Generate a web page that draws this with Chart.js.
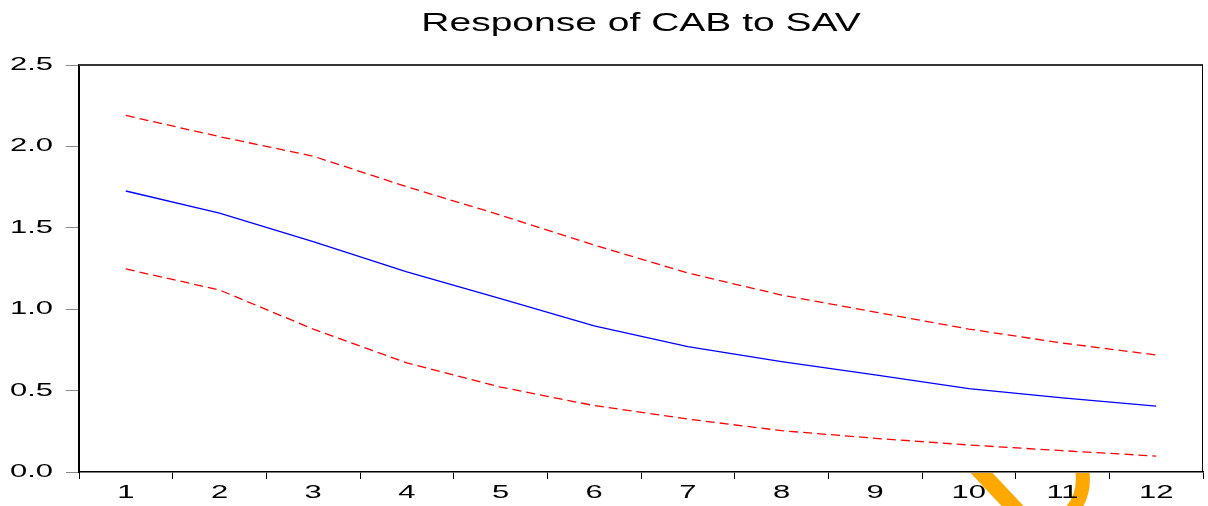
<!DOCTYPE html>
<html>
<head>
<meta charset="utf-8">
<script src="https://cdn.jsdelivr.net/npm/chart.js@4"></script>
<style>
  html, body {
    margin: 0;
    padding: 0;
    background: #fff;
  }
  #host {
    position: relative;
    width: 1208px;
    height: 506px;
  }
  #host canvas {
    position: absolute;
    left: 0;
    top: 0;
  }
  #pen {
    position: absolute;
    left: 0;
    top: 0;
  }
</style>
</head>
<body>
<div id="host">
  <svg id="pen" width="1208" height="506">
    <defs>
      <clipPath id="below-axis"><rect x="0" y="473" width="1208" height="40"/></clipPath>
    </defs>
    <g clip-path="url(#below-axis)">
      <path d="M975 466 L1022 516" stroke="#ffa800" stroke-width="16" fill="none"/>
      <path d="M1081 464 Q1088 494 1069 514" stroke="#ffa800" stroke-width="14" fill="none"/>
    </g>
  </svg>
  <canvas id="chart" width="1208" height="506"></canvas>
</div>
<script>
const periods = ['1', '2', '3', '4', '5', '6', '7', '8', '9', '10', '11', '12'];
const response = [1.726, 1.59, 1.415, 1.23, 1.065, 0.897, 0.77, 0.678, 0.596, 0.512, 0.455, 0.405];
const upperBand = [2.19, 2.06, 1.94, 1.752, 1.578, 1.394, 1.222, 1.087, 0.982, 0.878, 0.792, 0.719];
const lowerBand = [1.247, 1.118, 0.878, 0.67, 0.522, 0.408, 0.325, 0.254, 0.207, 0.166, 0.131, 0.098];
const yTicks = [0, 0.5, 1.0, 1.5, 2.0, 2.5];

const canvas = document.getElementById('chart');
const ctx = canvas.getContext('2d');

// wide lettering: stretch every piece of text horizontally around its anchor
const stretchFor = () => parseFloat(ctx.font.match(/(\d+(\.\d+)?)px/)[1]) >= 22 ? 1.56 : 1.72;
const fillText = ctx.fillText.bind(ctx);
const measureText = ctx.measureText.bind(ctx);
ctx.fillText = (text, x, y) => {
  const sx = stretchFor();
  ctx.save();
  ctx.translate(x, y);
  ctx.scale(sx, 1);
  fillText(text, 0, 0);
  ctx.restore();
};
ctx.measureText = text => {
  const m = measureText(text);
  return {
    width: m.width * stretchFor(),
    actualBoundingBoxAscent: m.actualBoundingBoxAscent,
    actualBoundingBoxDescent: m.actualBoundingBoxDescent
  };
};

const frame = {
  id: 'frame',
  afterDraw(chart) {
    const {top, right, bottom, left} = chart.chartArea;
    const c = chart.ctx;
    c.save();
    c.strokeStyle = '#333';
    c.lineWidth = 2;
    c.beginPath();
    c.moveTo(left, top);
    c.lineTo(right, top);
    c.stroke();
    c.strokeStyle = '#000';
    c.lineWidth = 1;
    c.beginPath();
    c.moveTo(right - 0.5, top);
    c.lineTo(right - 0.5, bottom);
    c.stroke();
    c.restore();
  }
};

const font = {family: '"Liberation Sans", Arial, sans-serif', size: 18};

new Chart(ctx, {
  type: 'line',
  data: {
    labels: periods,
    datasets: [
      {data: upperBand, borderColor: '#ff0000', borderWidth: 1.3, borderDash: [9, 5]},
      {data: lowerBand, borderColor: '#ff0000', borderWidth: 1.3, borderDash: [9, 5]},
      {data: response, borderColor: '#0000ff', borderWidth: 1.3}
    ]
  },
  options: {
    responsive: false,
    animation: false,
    devicePixelRatio: 1,
    layout: {padding: {left: 0, right: 5, top: 0, bottom: 0}},
    elements: {
      point: {radius: 0},
      line: {tension: 0, fill: false}
    },
    plugins: {
      legend: {display: false},
      tooltip: {enabled: false},
      title: {
        display: true,
        text: 'Response of CAB to SAV',
        fullSize: false,
        color: '#000',
        font: {family: '"Liberation Sans", Arial, sans-serif', size: 25, weight: 'normal'},
        padding: {top: 9, bottom: 26}
      }
    },
    scales: {
      x: {
        offset: true,
        grid: {
          offset: true,
          drawOnChartArea: false,
          tickLength: 7,
          color: '#000'
        },
        border: {color: '#000', width: 1.5},
        ticks: {color: '#000', font, padding: 3, autoSkip: false, maxRotation: 0},
        afterFit: scale => { scale.height = 34; }
      },
      y: {
        min: 0,
        max: 2.5,
        afterBuildTicks: scale => { scale.ticks = yTicks.map(v => ({value: v})); },
        grid: {
          drawOnChartArea: false,
          tickLength: 13,
          color: '#888'
        },
        border: {color: '#000', width: 2},
        ticks: {color: '#000', font, padding: 13, callback: v => v.toFixed(1)},
        afterFit: scale => { scale.width = 79; }
      }
    }
  },
  plugins: [frame]
});
</script>
</body>
</html>
